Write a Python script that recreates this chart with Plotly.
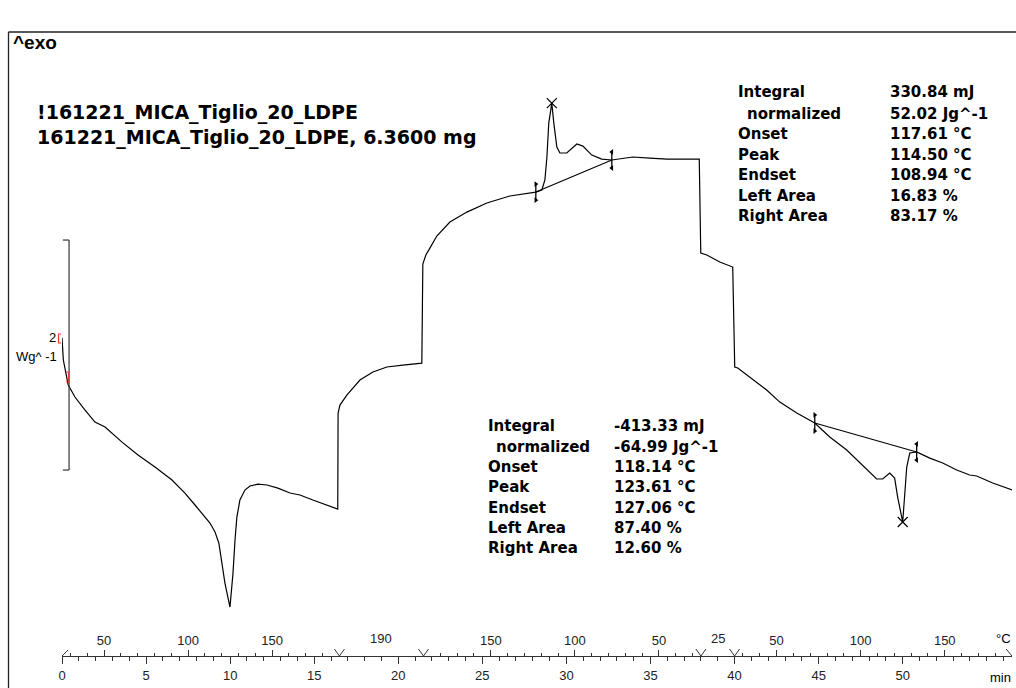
import plotly.graph_objects as go

# ---------------- data (time in min, heat flow in W/g) ----------------
t_heat1 = [0.00, 0.08, 0.37, 0.77, 1.37, 1.96, 2.56, 3.57, 4.52, 5.53, 6.54, 7.31, 7.91, 8.62, 8.80,
           9.10, 9.33, 9.51, 9.69, 9.99, 10.17, 10.29, 10.40, 10.58, 10.88, 11.18, 11.65, 12.19, 12.84,
           13.56, 14.15, 14.92, 15.76, 16.40]
hf_heat1 = [1.150, 0.957, 0.739, 0.635, 0.522, 0.417, 0.374, 0.243, 0.130, 0.026, -0.087, -0.200, -0.304,
            -0.435, -0.461, -0.539, -0.635, -0.809, -0.983, -1.191, -0.896, -0.609, -0.409, -0.261, -0.174,
            -0.139, -0.122, -0.130, -0.157, -0.200, -0.217, -0.261, -0.304, -0.339]
t_iso1 = [16.42, 16.53, 16.94, 17.72, 18.49, 19.32, 20.27, 21.40]
hf_iso1 = [0.496, 0.565, 0.652, 0.783, 0.852, 0.896, 0.913, 0.930]
t_cool = [21.46, 21.64, 21.88, 22.29, 23.07, 24.08, 25.27, 26.63, 28.18, 28.54, 28.72, 28.84, 28.95, 29.13,
          29.25, 29.43, 29.61, 30.02, 30.62, 30.98, 31.51, 32.10, 32.70, 33.95, 34.96, 35.97, 37.90]
hf_cool = [1.791, 1.870, 1.930, 2.035, 2.157, 2.243, 2.322, 2.383, 2.417, 2.435, 2.522, 2.722, 3.017, 3.191,
           3.017, 2.809, 2.757, 2.757, 2.835, 2.817, 2.739, 2.704, 2.696, 2.722, 2.713, 2.704, 2.704]
t_iso2 = [37.99, 38.35, 39.12, 39.89]
hf_iso2 = [1.887, 1.870, 1.809, 1.765]
t_heat2 = [40.01, 40.19, 40.90, 41.91, 42.69, 43.70, 44.77, 45.66, 46.67, 47.62, 48.45, 48.81, 49.23, 49.52,
           49.70, 50.00, 50.12, 50.24, 50.42, 50.83, 51.61, 52.38, 53.21, 53.98, 54.40, 55.35, 56.54]
hf_heat2 = [0.896, 0.887, 0.809, 0.696, 0.591, 0.496, 0.409, 0.287, 0.174, 0.043, -0.078, -0.078, -0.026,
            -0.070, -0.235, -0.452, -0.235, 0.026, 0.148, 0.157, 0.104, 0.061, 0.000, -0.043, -0.052,
            -0.113, -0.174]

peak_t = [29.13, 50.00]
peak_hf = [3.191, -0.452]
limit_t = [28.18, 32.70, 44.77, 50.83]
limit_hf = [2.417, 2.696, 0.409, 0.157]

# temperature program segments: (t_start, t_end, T_start, T_end)
program = [(0.0, 16.5, 25, 190), (16.5, 21.5, 190, 190), (21.5, 38.0, 190, 25),
           (38.0, 40.0, 25, 25), (40.0, 56.5, 25, 190)]
time_ticks = [0, 5, 10, 15, 20, 25, 30, 35, 40, 45, 50]

title_lines = ["!161221_MICA_Tiglio_20_LDPE", "161221_MICA_Tiglio_20_LDPE, 6.3600 mg"]
res_labels = ["Integral", "normalized", "Onset", "Peak", "Endset", "Left Area", "Right Area"]
res1_values = ["330.84 mJ", "52.02 Jg^-1", "117.61 °C", "114.50 °C", "108.94 °C", "16.83 %", "83.17 %"]
res2_values = ["-413.33 mJ", "-64.99 Jg^-1", "118.14 °C", "123.61 °C", "127.06 °C", "87.40 %", "12.60 %"]

# ---------------- layout geometry ----------------
W, H = 1016, 688
PX0, PX1 = 62, 1012      # plot area in screen pixels (x)
PY0, PY1 = 32, 656       # plot area in screen pixels (y)
L, R, T, B = PX0, W - PX1, PY0, H - PY1
X0, X1 = 0.0, 56.5
Y0, Y1 = -1.617, 3.809
PW, PH = PX1 - PX0, PY1 - PY0


def xp(px):
    return (px - PX0) / PW


def yp(py):
    return (PY1 - py) / PH


# temperature tick positions from the temperature program
major_tv, major_tt, minor_tv = [], [], []
for (ta, tb, Ta, Tb) in program:
    if Ta == Tb:
        continue
    rate = (Tb - Ta) / (tb - ta)
    lo, hi = min(Ta, Tb), max(Ta, Tb)
    Tv = (lo // 10 + 1) * 10
    while Tv < hi:
        tt = ta + (Tv - Ta) / rate
        if Tv % 50 == 0:
            major_tv.append(tt)
            major_tt.append(str(int(Tv)))
        else:
            minor_tv.append(tt)
        Tv += 10

t_all = t_heat1 + t_iso1 + t_cool + t_iso2 + t_heat2
hf_all = hf_heat1 + hf_iso1 + hf_cool + hf_iso2 + hf_heat2

fig = go.Figure()
fig.add_trace(go.Scatter(x=t_all, y=hf_all, mode="lines",
                         line=dict(color="black", width=1.2), hoverinfo="skip", showlegend=False))

# baselines
fig.add_trace(go.Scatter(x=[limit_t[0], limit_t[1], None, limit_t[2], limit_t[3]],
                         y=[limit_hf[0], limit_hf[1], None, limit_hf[2], limit_hf[3]],
                         mode="lines", line=dict(color="black", width=1.1), showlegend=False,
                         hoverinfo="skip"))
# limit markers
d = 0.07
for i, (lt, lh) in enumerate(zip(limit_t, limit_hf)):
    sym = "triangle-right" if i % 2 == 0 else "triangle-left"
    fig.add_trace(go.Scatter(x=[lt, lt], y=[lh + d, lh - d], mode="lines+markers",
                             line=dict(color="black", width=1.3),
                             marker=dict(symbol=sym, size=5, color="black"),
                             showlegend=False, hoverinfo="skip"))
# peak markers
fig.add_trace(go.Scatter(x=peak_t, y=peak_hf, mode="markers",
                         marker=dict(symbol="x-thin", size=10, line=dict(color="black", width=1.2)),
                         showlegend=False, hoverinfo="skip"))
# invisible trace so the temperature axis is drawn
fig.add_trace(go.Scatter(x=[X0], y=[Y0], xaxis="x2", mode="markers", marker=dict(opacity=0),
                         showlegend=False, hoverinfo="skip"))

axis_font = dict(family="Liberation Sans, Arial", size=13, color="#222")
fig.update_layout(
    width=W, height=H, margin=dict(l=L, r=R, t=T, b=B, pad=0),
    paper_bgcolor="white", plot_bgcolor="white",
    xaxis=dict(range=[X0, X1], showgrid=False, zeroline=False, showline=True, linecolor="#333",
               linewidth=1, ticks="outside", ticklen=7, tickcolor="#333", tickwidth=1,
               tickvals=time_ticks, ticktext=[str(v) for v in time_ticks], tickfont=axis_font,
               minor=dict(ticks="outside", ticklen=4, tickcolor="#333", dtick=1, tick0=0)),
    xaxis2=dict(range=[X0, X1], overlaying="x", side="top", anchor="free", position=0,
                showgrid=False, zeroline=False, showline=False, ticks="outside", ticklen=6,
                tickcolor="#333", tickwidth=1, tickvals=major_tv, ticktext=major_tt,
                tickfont=axis_font,
                minor=dict(ticks="outside", ticklen=3, tickcolor="#333", tickmode="array",
                           tickvals=minor_tv)),
    yaxis=dict(range=[Y0, Y1], visible=False),
)

shapes = []
# frame
shapes.append(dict(type="line", xref="paper", yref="paper", x0=xp(8.5), x1=xp(1030), y0=yp(32), y1=yp(32),
                   line=dict(color="#222", width=1.3)))
shapes.append(dict(type="line", xref="paper", yref="paper", x0=xp(8.5), x1=xp(8.5), y0=yp(32), y1=yp(700),
                   line=dict(color="#222", width=1.3)))
# segment boundary V marks
for (ta, tb, Ta, Tb) in program[1:]:
    for s in (-0.3, 0.3):
        shapes.append(dict(type="line", xref="x", yref="paper", x0=ta + s, x1=ta, y0=yp(649), y1=yp(656),
                           line=dict(color="#333", width=1)))
# start / end marks
shapes.append(dict(type="line", xref="x", yref="paper", x0=0, x1=0.36, y0=yp(656), y1=yp(650),
                   line=dict(color="#333", width=1)))
shapes.append(dict(type="line", xref="x", yref="paper", x0=56.15, x1=56.5, y0=yp(649), y1=yp(656),
                   line=dict(color="#333", width=1)))
# scale bar (2 W/g)
sb_t = 0.42
shapes.append(dict(type="line", xref="x", yref="y", x0=sb_t, x1=sb_t, y0=0, y1=2,
                   line=dict(color="#444", width=1.3)))
for yy in (0, 2):
    shapes.append(dict(type="line", xref="x", yref="y", x0=sb_t, x1=0.05, y0=yy, y1=yy,
                       line=dict(color="#444", width=1.3)))
# red range brackets
shapes.append(dict(type="path", xref="paper", yref="paper",
                   path=f"M {xp(61)} {yp(334)} L {xp(58.5)} {yp(334)} L {xp(58.5)} {yp(343)} L {xp(61)} {yp(343)}",
                   line=dict(color="#e23b3b", width=1.2)))
shapes.append(dict(type="path", xref="paper", yref="paper",
                   path=f"M {xp(66)} {yp(372)} L {xp(68.5)} {yp(372)} L {xp(68.5)} {yp(382)} L {xp(66)} {yp(382)}",
                   line=dict(color="#e23b3b", width=1.2)))
fig.update_layout(shapes=shapes)

ann = []


def text(px, py, s, size=13, bold=False, anchor="left", family="Liberation Sans, Arial"):
    ann.append(dict(xref="paper", yref="paper", x=xp(px), y=yp(py), text=(f"<b>{s}</b>" if bold else s),
                    showarrow=False, xanchor=anchor, yanchor="middle",
                    font=dict(family=family, size=size, color="black")))


text(11, 42, "^exo", size=19, bold=True)
verd = "DejaVu Sans"
text(35, 113, title_lines[0], size=19, bold=True, family=verd)
text(35, 138, title_lines[1], size=19, bold=True, family=verd)
ys1 = [92, 114, 134, 155, 175, 196, 216]
ys2 = [426, 447, 467, 487, 508, 528, 548]
for i in range(7):
    lab = res_labels[i]
    text(745 if i == 1 else 736, ys1[i], lab, size=15, bold=True, family=verd)
    text(888, ys1[i], res1_values[i], size=15, bold=True, family=verd)
    text(494 if i == 1 else 486, ys2[i], lab, size=15, bold=True, family=verd)
    text(612, ys2[i], res2_values[i], size=15, bold=True, family=verd)
# scale bar labels
text(58, 337, "2", size=13, anchor="right")
text(59, 357, "Wg^ -1", size=13, anchor="right")
# axis extra labels
ann.append(dict(xref="x", yref="paper", x=19.0, y=yp(638), text="190", showarrow=False, xanchor="center",
                yanchor="middle", font=axis_font))
ann.append(dict(xref="x", yref="paper", x=39.0, y=yp(638), text="25", showarrow=False, xanchor="center",
                yanchor="middle", font=axis_font))
text(1013, 638, "°C", size=13, anchor="right")
text(1013, 677, "min", size=13, anchor="right")
fig.update_layout(annotations=ann)

fig.write_html("out.html", config={"displayModeBar": False},
               post_script="document.body.style.margin='0';document.body.style.overflow='hidden';")
